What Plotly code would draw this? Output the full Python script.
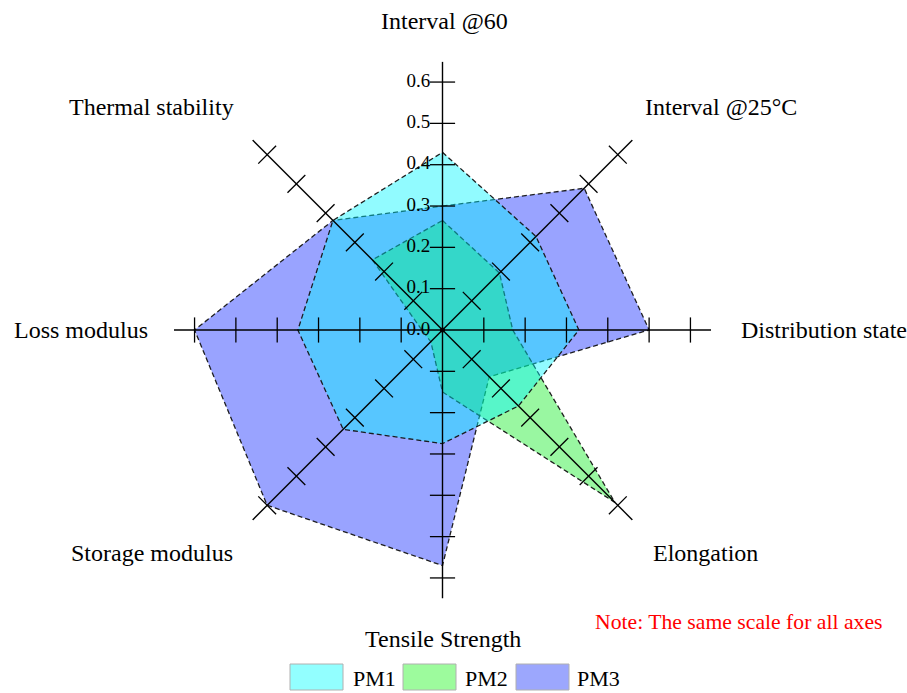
import plotly.graph_objects as go

# Radar axes, clockwise from the top
categories = ["Interval @60", "Interval @25°C", "Distribution state", "Elongation",
              "Tensile Strength", "Storage modulus", "Loss modulus", "Thermal stability"]
pm1 = [0.43, 0.32, 0.33, 0.26, 0.275, 0.34, 0.35, 0.375]
pm2 = [0.265, 0.195, 0.17, 0.59, 0.15, 0.04, 0.05, 0.24]
pm3 = [0.30, 0.485, 0.50, 0.16, 0.57, 0.60, 0.60, 0.375]
tick_values = [0.1, 0.2, 0.3, 0.4, 0.5, 0.6]
label_values = [0.0, 0.1, 0.2, 0.3, 0.4, 0.5, 0.6]
r_max = 0.65

W, H = 907, 693
FONT = "Liberation Serif"

def px(x):
    return x / W

def py(y):
    return 1 - y / H

series = [
    ("PM3", pm3, "rgba(0,25,255,0.40)", "#9ca7fd"),
    ("PM2", pm2, "rgba(0,235,20,0.40)", "#9dfb9d"),
    ("PM1", pm1, "rgba(0,245,255,0.43)", "#92ffff"),
]

fig = go.Figure()

for name, vals, fillc, _ in series:
    fig.add_trace(go.Scatterpolar(
        r=vals + vals[:1], theta=categories + categories[:1],
        mode="lines", fill="toself", fillcolor=fillc, name=name,
        line=dict(color="rgba(20,20,20,0.95)", width=1.3, dash="5px,3px"),
        showlegend=False, hoverinfo="skip",
    ))

# Spokes drawn over the filled areas
spoke_r, spoke_t = [], []
for c in categories:
    spoke_r += [0, r_max, None]
    spoke_t += [c, c, None]
fig.add_trace(go.Scatterpolar(
    r=spoke_r, theta=spoke_t, mode="lines",
    line=dict(color="black", width=1.4), showlegend=False, hoverinfo="skip",
))

# Crossing tick marks on every spoke
tick_r, tick_t, tick_a = [], [], []
for i, c in enumerate(categories):
    for v in tick_values:
        tick_r.append(v)
        tick_t.append(c)
        tick_a.append(45 * i)
fig.add_trace(go.Scatterpolar(
    r=tick_r, theta=tick_t, mode="markers",
    marker=dict(symbol="line-ew", size=18, angle=tick_a,
                line=dict(color="black", width=1.3)),
    showlegend=False, hoverinfo="skip",
))
fig.add_trace(go.Scatterpolar(
    r=[0], theta=[categories[0]], mode="markers",
    marker=dict(symbol="circle", size=5, color="black"),
    showlegend=False, hoverinfo="skip",
))

# Scale labels along the vertical axis
fig.add_trace(go.Scatterpolar(
    r=label_values, theta=[categories[0]] * len(label_values),
    mode="markers+text", text=[f"{v:.1f}" for v in label_values],
    textposition="middle left",
    marker=dict(size=18, color="rgba(0,0,0,0)"),
    textfont=dict(family=FONT, size=19, color="black"),
    cliponaxis=False, showlegend=False, hoverinfo="skip",
))

cx, cy, rad = 442.5, 330.0, 268.6
fig.update_layout(
    width=W, height=H,
    margin=dict(l=0, r=0, t=0, b=0),
    paper_bgcolor="white",
    showlegend=False,
    polar=dict(
        domain=dict(x=[px(cx - rad), px(cx + rad)], y=[py(cy + rad), py(cy - rad)]),
        bgcolor="white",
        angularaxis=dict(
            categoryorder="array", categoryarray=categories,
            rotation=90, direction="clockwise",
            showgrid=False, showline=False, showticklabels=False, ticks="",
        ),
        radialaxis=dict(
            range=[0, r_max], angle=90,
            showgrid=False, showline=False, showticklabels=False, ticks="",
        ),
    ),
)

# Axis titles placed around the chart
labels = [
    ("Interval @60", 444, 21, "center"),
    ("Interval @25°C", 721, 107, "center"),
    ("Distribution state", 739, 330, "left"),
    ("Elongation", 705, 553, "center"),
    ("Tensile Strength", 443, 639, "center"),
    ("Storage modulus", 152, 553, "center"),
    ("Loss modulus", 12, 330, "left"),
    ("Thermal stability", 151, 107, "center"),
]
for text, x, y, anchor in labels:
    fig.add_annotation(x=px(x), y=py(y), xref="paper", yref="paper", text=text,
                       showarrow=False, xanchor=anchor, yanchor="middle",
                       font=dict(family=FONT, size=24, color="black"))

fig.add_annotation(x=px(593), y=py(622), xref="paper", yref="paper",
                   text="Note: The same scale for all axes", showarrow=False,
                   xanchor="left", yanchor="middle",
                   font=dict(family=FONT, size=21.7, color="red"))

# Legend swatches
legend_pos = {"PM1": (290, 351), "PM2": (403, 463), "PM3": (516, 575)}
for name, vals, fillc, swatch in series:
    bx, tx = legend_pos[name]
    fig.add_shape(type="rect", xref="paper", yref="paper",
                  x0=px(bx), x1=px(bx + 53), y0=py(690), y1=py(664),
                  fillcolor=swatch, line=dict(color="#b0b0b0", width=1))
    fig.add_annotation(x=px(tx), y=py(678), xref="paper", yref="paper", text=name,
                       showarrow=False, xanchor="left", yanchor="middle",
                       font=dict(family=FONT, size=22, color="black"))

fig.write_html("out.html")
